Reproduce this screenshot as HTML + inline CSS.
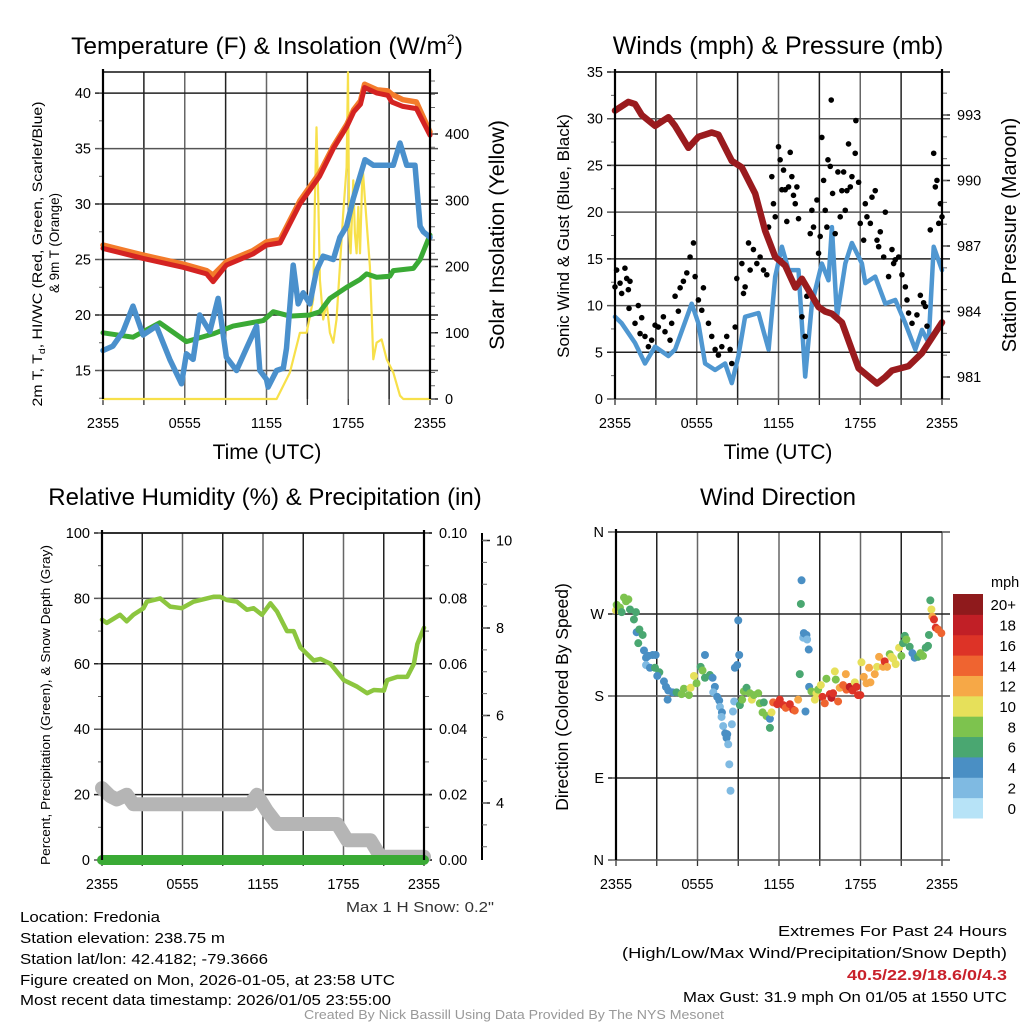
<!DOCTYPE html>
<html><head><meta charset="utf-8">
<style>
html,body{margin:0;padding:0;background:#fff;}
svg{display:block;font-family:"Liberation Sans",sans-serif;}
</style></head>
<body>
<svg id="fig" width="1024" height="1024" viewBox="0 0 1024 1024" xmlns="http://www.w3.org/2000/svg">
<rect x="0" y="0" width="1024" height="1024" fill="#fff"/>
<text x="267" y="54" font-size="24.5" text-anchor="middle">Temperature (F) &amp; Insolation (W/m<tspan font-size="14" dy="-10">2</tspan><tspan dy="10">)</tspan></text>
<text x="778" y="54" font-size="25" text-anchor="middle">Winds (mph) &amp; Pressure (mb)</text>
<text x="265" y="505" font-size="24" text-anchor="middle">Relative Humidity (%) &amp; Precipitation (in)</text>
<text x="778" y="505" font-size="24" text-anchor="middle">Wind Direction</text>

<text transform="translate(42,254) rotate(-90)" font-size="13.5" text-anchor="middle" textLength="305" lengthAdjust="spacingAndGlyphs">2m T, T<tspan font-size="9" dy="3">d</tspan><tspan dy="-3">, HI/WC (Red, Green, Scarlet/Blue)</tspan></text>
<text transform="translate(59,243) rotate(-90)" font-size="13.5" text-anchor="middle" textLength="100" lengthAdjust="spacingAndGlyphs">&amp; 9m T (Orange)</text>
<text transform="translate(504,235) rotate(-90)" font-size="21.5" text-anchor="middle">Solar Insolation (Yellow)</text>
<text transform="translate(569,236) rotate(-90)" font-size="17" text-anchor="middle">Sonic Wind &amp; Gust (Blue, Black)</text>
<text transform="translate(1016,235) rotate(-90)" font-size="20" text-anchor="middle">Station Pressure (Maroon)</text>
<text transform="translate(50,705) rotate(-90)" font-size="13" text-anchor="middle" textLength="320" lengthAdjust="spacingAndGlyphs">Percent, Precipitation (Green), &amp; Snow Depth (Gray)</text>
<text transform="translate(568,697) rotate(-90)" font-size="17.5" text-anchor="middle">Direction (Colored By Speed)</text>
<text x="267" y="459" font-size="21" text-anchor="middle">Time (UTC)</text>
<text x="778" y="459" font-size="21" text-anchor="middle">Time (UTC)</text>

<text x="494" y="912" font-size="14.5" text-anchor="end" textLength="148" lengthAdjust="spacingAndGlyphs" fill="#333">Max 1 H Snow: 0.2"</text>
<g font-size="15">
<text x="20" y="922" textLength="140" lengthAdjust="spacingAndGlyphs">Location: Fredonia</text>
<text x="20" y="943" textLength="205" lengthAdjust="spacingAndGlyphs">Station elevation: 238.75 m</text>
<text x="20" y="964" textLength="248" lengthAdjust="spacingAndGlyphs">Station lat/lon: 42.4182; -79.3666</text>
<text x="20" y="985" textLength="375" lengthAdjust="spacingAndGlyphs">Figure created on Mon, 2026-01-05, at 23:58 UTC</text>
<text x="20" y="1005" textLength="371" lengthAdjust="spacingAndGlyphs">Most recent data timestamp: 2026/01/05 23:55:00</text>
</g>
<g font-size="15" text-anchor="end">
<text x="1007" y="936" textLength="229" lengthAdjust="spacingAndGlyphs">Extremes For Past 24 Hours</text>
<text x="1007" y="958" textLength="385" lengthAdjust="spacingAndGlyphs">(High/Low/Max Wind/Precipitation/Snow Depth)</text>
<text x="1007" y="980" font-weight="bold" fill="#c8202a" textLength="160" lengthAdjust="spacingAndGlyphs">40.5/22.9/18.6/0/4.3</text>
<text x="1007" y="1002" textLength="324" lengthAdjust="spacingAndGlyphs">Max Gust: 31.9 mph On 01/05 at 1550 UTC</text>
</g>
<text x="514" y="1019" font-size="12.5" text-anchor="middle" fill="#999" textLength="420" lengthAdjust="spacingAndGlyphs">Created By Nick Bassill Using Data Provided By The NYS Mesonet</text>
<g id="layer"></g>
</svg>
<script>
// ---------- DATA ----------
var xTickLabels = ["2355","0555","1155","1755","2355"];
var tempTicks = [15,20,25,30,35,40];
var insolTicks = [0,100,200,300,400];
var windTicks = [0,5,10,15,20,25,30,35];
var presTicks = [981,984,987,990,993];
var rhTicks = [0,20,40,60,80,100];
var precipTicks = ["0.00","0.02","0.04","0.06","0.08","0.10"];
var snowTicks = [4,6,8,10];
var dirTicks = ["N","E","S","W","N"];
var speedBinLabels = ["0","2","4","6","8","10","12","14","16","18","20+"];
var speedBinColors = ["#b7e3f7","#7fbae2","#4a8fc4","#4aa771","#7dc34e","#e6e05a","#f6a847","#ef6430","#dd3327","#c11f26","#8f1a1c"];

var tempHours = [0,2.94,5.88,7.6,8.08,9.06,11.0,12.0,13.0,13.7,14.45,15.9,16.9,17.9,18.4,18.9,19.2,20.1,20.9,21.2,22.0,23.0,24];
var tempVals  = [26,25.1,24.3,23.7,23.0,24.5,25.5,26.3,26.5,28.2,30,32.5,35,37,38.3,39,40.5,40,39.8,39.2,38.8,38.6,36.2];
var temp9mVals= [26.3,25.4,24.6,24.0,23.6,24.8,25.8,26.6,26.8,28.5,30.3,32.8,35.2,37.2,38.5,39.3,40.8,40.3,40.2,39.9,39.4,39.2,36.5];
var dewHours = [0,2.2,4.16,6.12,8.08,9.55,11.76,12.49,13.72,15.18,15.92,16.65,17.88,18.86,19.35,20.08,21.06,21.31,22.78,23.27,24];
var dewVals  = [18.4,18.0,19.3,17.6,18.3,19.0,19.5,20.3,19.9,20.0,20.3,21.5,22.5,23.2,23.7,23.4,23.5,24.0,24.2,25,27.2];
var wcHours = [0,0.73,1.47,2.2,2.94,3.92,4.9,5.76,6.12,6.61,7.1,7.84,8.45,9.06,9.8,10.53,11.27,11.51,12.0,12.12,12.74,13.23,13.47,13.96,14.33,14.69,15.18,15.67,16.16,16.9,17.39,17.88,18.37,18.74,19.23,19.84,20.57,21.31,21.8,22.29,22.9,23.27,23.51,24];
var wcVals  = [16.8,17.2,18.5,20.8,18.2,19,16,13.8,16.5,16,20,18.5,21.5,16.2,15,17,19,15,14.2,13.5,15,15.2,17,24.5,21,22,21,24,25.3,25,27,28,30.5,32,34,33.5,33.5,33.5,35.5,33.5,33.5,28,27.5,27];
var solHours = [0,12.74,13.72,14.45,14.94,15.43,15.55,15.67,15.8,15.92,16.16,16.41,16.65,16.9,17.14,17.39,17.63,17.88,17.98,18.07,18.17,18.37,18.49,18.61,18.74,18.86,19.05,19.23,19.59,19.84,20.08,20.45,20.82,21.31,21.8,22.04,24];
var solVals  = [0,0,40,100,100,150,300,410,300,180,120,145,100,85,120,200,280,350,493,250,220,330,250,220,290,220,350,300,200,60,85,90,60,40,5,0,0];

var presHours = [0,0.98,1.47,1.96,2.94,3.92,4.41,5.39,6.12,7.1,7.59,8.57,9.31,10.29,11.02,11.76,12.49,13.23,13.72,14.94,15.43,15.92,16.65,17.88,19.23,19.84,20.33,21.55,22.53,24];
var presVals  = [993.2,993.6,993.5,993.0,992.5,992.9,992.5,991.5,992.0,992.2,992.1,990.9,990.6,989.4,987.7,986.5,986.1,985.1,985.5,984.2,984.0,983.9,983.5,981.4,980.7,981.0,981.3,981.5,982.1,983.5];
var windHours = [0,0.49,1.47,2.2,2.94,3.92,4.41,5.63,6.12,6.61,7.35,8.08,8.57,9.06,9.55,10.53,11.27,11.76,12.25,12.74,13.47,13.96,14.45,15.18,15.67,15.92,16.29,16.9,17.39,18.12,18.37,19.1,19.84,20.57,21.31,22.04,22.53,23.02,23.39,24];
var windVals  = [8.8,8.1,6,3.8,5.6,4.6,5.3,10.2,8.1,3.8,3.1,3.8,1.7,4.6,8.8,9.2,5.3,13.1,16.3,13.8,13.8,2.4,10.2,14.5,12.7,18.4,8.8,14.5,16.7,14.5,12.4,13.1,10.2,10.6,8.1,5.3,7.4,6,16.3,13.8];
var gustHours = [0,0.12,0.37,0.49,0.86,0.98,0.73,1.1,1.03,1.47,1.71,1.96,1.84,2.2,2.45,2.69,2.94,3.18,3.55,3.67,4.04,4.16,4.41,4.65,4.78,5.02,5.27,5.51,5.76,5.88,6.12,6.37,6.49,6.86,7.1,7.35,7.59,7.84,8.2,8.45,8.57,8.82,8.94,9.31,9.43,9.55,9.8,9.92,10.16,10.41,10.65,10.9,11.14,11.27,11.51,11.63,11.76,12.0,12.12,12.25,12.37,12.49,12.61,12.74,12.86,12.98,13.1,13.23,13.35,13.47,13.72,13.96,14.08,14.33,14.45,14.57,14.82,14.94,15.06,15.18,15.31,15.43,15.55,15.63,15.8,15.87,15.97,16.16,16.36,16.53,16.65,16.78,16.9,17.02,17.14,17.27,17.39,17.63,17.68,17.88,18.0,18.25,18.37,18.49,18.74,18.86,19.1,19.23,19.35,19.47,19.72,19.84,20.08,20.33,20.45,20.57,20.82,21.06,21.31,21.43,21.55,21.8,22.16,22.41,22.65,22.78,22.9,23.14,23.39,23.51,23.63,23.76,23.88,24];
var gustVals  = [12,13.8,12.4,11.3,12.9,11.7,14,12.6,9.7,8.1,10,8.7,7,6.7,5.6,6.3,7.9,7.7,8.8,7.2,6.3,8.1,11,9.4,11.9,12.6,13.5,15.2,16.7,13.1,10.6,9.5,11.9,8.1,6.7,5.3,4.7,5.6,6.7,5.3,3.8,7.7,12.9,14.5,11.3,12,16.7,13.8,16,14.5,15.2,13.8,13.3,18.4,23.8,20.9,19.5,27,25.6,22.4,24.5,22.4,19,22.7,26.4,23.8,21.8,20.9,22.7,19.3,8.8,6.7,11,17.7,20.2,18.4,21.3,15.6,17.4,28,23.4,20.2,18.4,25.6,24.9,32,22,17.7,24.3,19.5,22.3,24.3,20.2,22.3,27.3,22.7,23.8,26.3,29.8,23.2,18.8,17,20.9,19.5,18.8,21.6,22.3,17,16.3,17.9,15.2,20,13.1,16,14.5,14.9,15.2,13.3,12,10.6,9.2,8.1,9,11.1,10.3,9.9,7.8,18.1,26.3,22.7,23.4,18.8,20.9,19.5];

var rhHours = [0,0.35,1.34,1.84,2.34,3.09,3.34,4.33,5.08,5.95,6.82,8.31,8.81,9.31,10.06,10.8,11.3,11.92,12.55,13.04,13.79,14.29,14.79,15.78,16.28,17.03,18.02,19.02,19.77,20.26,21.01,21.26,22.01,22.75,23.25,23.5,24];
var rhVals  = [73.5,72.5,75,73,75,77,79,80,77.5,77,79,80.5,80.5,79.5,79,76.5,77,75,78.5,76,70,70,65,61,61.5,60,55,53,51,52,51.8,55,56,56,60,66,71];
var precipHours = [0,24];
var precipVals  = [0,0];
var snowHours = [0,0.6,1.1,1.84,2.34,11.05,11.55,12.3,13.04,17.53,18.27,20.01,20.76,24];
var snowVals  = [4.34,4.16,4.08,4.19,3.97,3.97,4.19,3.82,3.52,3.52,3.15,3.15,2.77,2.77];

var dirHours = [0,0.05,0.29,0.59,0.74,0.91,0.42,1.03,1.47,1.32,1.52,1.72,1.96,1.64,2.06,2.21,2.38,2.70,2.92,2.21,2.50,2.87,3.19,3.04,3.53,3.68,3.85,3.80,4.17,4.46,4.83,5.00,5.37,5.49,5.74,5.93,6.23,6.37,6.55,6.55,6.91,7.11,7.28,7.16,7.45,7.60,7.65,7.80,7.77,7.89,8.04,8.19,8.14,8.26,8.34,8.43,8.53,8.61,8.70,8.75,8.92,9.07,9.00,9.12,9.29,9.41,9.61,9.86,10.0,10.15,10.47,10.59,10.79,10.88,11.08,11.33,11.33,11.45,11.57,11.87,12.06,12.31,12.50,12.80,13.04,13.16,13.41,13.53,13.66,13.61,13.78,13.83,14.02,14.07,14.19,13.95,14.22,14.39,14.64,14.76,14.88,15.08,15.20,15.37,15.49,15.74,15.86,15.98,16.11,16.18,16.35,16.47,16.72,16.92,16.96,17.21,17.41,17.58,17.70,17.82,17.99,18.07,18.24,18.44,18.63,18.73,19.05,19.22,19.37,19.66,19.78,19.96,20.15,20.27,20.40,20.59,20.84,21.01,21.13,21.26,21.38,21.62,21.82,21.99,22.24,22.41,22.60,22.80,22.97,23.04,23.14,23.22,23.29,23.41,23.54,23.71,23.95];
var dirVals  = [274,280,277,288,284,286,272,275,272,264,250,253,247,238,230,222,224,225,225,214,211,211,206,202,196,190,186,176,184,184,182,188,181,189,202,194,212,208,200,225,203,200,190,184,179,175,168,162,157,147,139,138,134,127,105,76,149,163,174,211,214,225,263,170,176,185,189,183,176,181,183,172,162,173,158,155,145,162,173,171,176,170,167,171,165,164,176,204,307,281,244,249,247,242,231,163,190,185,176,183,187,192,179,172,199,182,178,183,207,198,174,189,192,204,187,190,186,195,190,181,181,217,201,194,211,195,204,212,223,212,218,212,226,223,221,215,233,224,238,246,242,234,227,222,223,227,224,233,235,247,285,275,267,264,255,253,249];
var dirSpeeds = [10,8,8,8,8,8,6,6,6,6,4,6,6,6,4,4,4,4,4,2,4,6,6,4,4,4,4,4,4,6,8,8,8,10,10,8,6,8,6,4,6,4,4,2,4,4,2,4,2,2,4,4,4,2,2,2,2,2,2,4,4,4,4,6,8,8,6,8,10,8,8,8,8,6,8,4,6,10,14,16,16,16,14,16,16,14,12,6,4,6,2,4,4,2,4,4,4,8,10,10,8,10,16,14,8,16,18,16,10,8,14,12,14,12,14,18,16,10,16,16,16,10,12,12,12,12,12,10,12,12,16,12,8,10,10,10,10,8,6,6,8,6,4,4,6,8,8,6,6,6,6,10,12,16,16,14,14];

// ---------- HELPERS ----------
var NS = "http://www.w3.org/2000/svg";
var layer = document.getElementById('layer');
function mk(tag, attrs, parent){
  var e = document.createElementNS(NS, tag);
  for (var k in attrs) e.setAttribute(k, attrs[k]);
  (parent || layer).appendChild(e);
  return e;
}
function lin(d0,d1,r0,r1){ return function(v){ return r0 + (v-d0)/(d1-d0)*(r1-r0); }; }

function panel(name, X0, X1, Yt, Yb){
  var g = mk('g', {});
  
  
  var x = lin(0,24,X0,X1);
  return {g:g, x:x, X0:X0, X1:X1, Yt:Yt, Yb:Yb};
}
function grid(p, yvals, yfn){
  var gg = mk('g', {}, p.g);
  
  
  for (var i=0;i<=8;i++){
    var xx = p.x(i*3);
    var l = mk('line', {x1:xx,x2:xx,y1:p.Yt,y2:p.Yb,stroke:(i%2?'#222':'#666'),'stroke-width':1.5}, gg);
    
    
    var t = mk('line', {x1:xx,x2:xx,y1:p.Yb,y2:p.Yb+6,stroke:'#333','stroke-width':1.3}, gg);
    
    
  }
  yvals.forEach(function(v,i){
    var yy = yfn(v);
    var l = mk('line', {x1:p.X0-8,x2:p.X1+8,y1:yy,y2:yy,stroke:(i%2?'#222':'#555'),'stroke-width':1.5}, gg);
    
    
  });
  var top = mk('line', {x1:p.X0,x2:p.X1,y1:p.Yt,y2:p.Yt,stroke:'#111','stroke-width':1.5}, gg);
  
  
  xTickLabels.forEach(function(s,i){
    var t = mk('text', {x:p.x(i*6), y:p.Yb+29, 'font-size':14.5, 'text-anchor':'middle'}, p.g);
    t.textContent = s;
    
    
  });
}
function frameSide(p, xx){
  var l = mk('line', {x1:xx,x2:xx,y1:p.Yt-3,y2:p.Yb,stroke:'#000','stroke-width':2.2}, p.g);
  
  
}
function leftTicks(p, vals, labels, yfn, minorStep, lo, hi, xx){
  xx = xx===undefined ? p.X0 : xx;
  vals.forEach(function(v,i){
    var yy=yfn(v);
    var t = mk('text', {x:xx-12, y:yy+5, 'font-size':14.5, 'text-anchor':'end'}, p.g);
    t.textContent = labels[i];
    
    
  });
  for (var m=lo; m<=hi+1e-9; m+=minorStep){
    var yy=yfn(m);
    var t = mk('line', {x1:xx-4,x2:xx,y1:yy,y2:yy,stroke:'#666','stroke-width':1}, p.g);
    
    
  }
}
function rightTicks(p, vals, labels, yfn, minorStep, lo, hi, xx, extra){
  xx = xx===undefined ? p.X1 : xx;
  vals.forEach(function(v,i){
    var yy=yfn(v);
    var tk = mk('line', {x1:xx,x2:xx+8,y1:yy,y2:yy,stroke:'#222','stroke-width':1.5}, p.g);
    
    
    var t = mk('text', {x:xx+(extra||15), y:yy+5, 'font-size':14.5, 'text-anchor':'start'}, p.g);
    t.textContent = labels[i];
    
    
  });
  for (var m=lo; m<=hi+1e-9; m+=minorStep){
    var yy=yfn(m);
    var t = mk('line', {x1:xx,x2:xx+5,y1:yy,y2:yy,stroke:'#666','stroke-width':1}, p.g);
    
    
  }
}
function line(p, hrs, vals, yfn, color, w, name, cap){
  var d = hrs.map(function(h,i){ return (i?'L':'M') + p.x(h).toFixed(1) + ',' + yfn(vals[i]).toFixed(1); }).join(' ');
  var e = mk('path', {d:d, fill:'none', stroke:color, 'stroke-width':w, 'stroke-linejoin':'round', 'stroke-linecap':cap||'round'}, p.g);
  
  
  return e;
}
function binColor(s){ var b = Math.floor(s/2); if (b>10) b=10; if (b<0) b=0; return speedBinColors[b]; }

// ---------- PANEL 1: Temperature ----------
(function(){
  var p = panel('temperature', 103, 430, 72, 399);
  var yT = lin(12.43, 41.9, 399, 72);
  var yI = lin(0, 400, 399, 134);
  grid(p, tempTicks, yT);
  leftTicks(p, tempTicks, tempTicks, yT, 2.5, 12.5, 40);
  rightTicks(p, insolTicks, insolTicks, yI, 20, 0, 480);
  line(p, solHours, solVals, yI, '#f7e04a', 2.2, 'insolation-line');
  line(p, dewHours, dewVals, yT, '#3aaa35', 5, 'dewpoint-line');
  line(p, wcHours, wcVals, yT, '#4a90cc', 5.5, 'windchill-line');
  line(p, tempHours, temp9mVals, yT, '#f37b2b', 5.5, 'temp-9m-line');
  line(p, tempHours, tempVals, yT, '#d42322', 5, 'temp-2m-line');
  frameSide(p, p.X0); frameSide(p, p.X1);
})();

// ---------- PANEL 2: Winds & Pressure ----------
(function(){
  var p = panel('winds', 615, 942, 72, 399);
  var yW = lin(0, 35, 399, 72);
  var yP = lin(981, 993, 377, 115);
  grid(p, windTicks, yW);
  leftTicks(p, windTicks, windTicks, yW, 2.5, 0, 35);
  rightTicks(p, presTicks, presTicks, yP, 1, 980, 994);
  line(p, windHours, windVals, yW, '#4f97d1', 4.5, 'sustained-wind-line');
  var gg = mk('g', {}, p.g);
  
  
  gustHours.forEach(function(h,i){
    var c = mk('circle', {cx:p.x(h), cy:yW(gustVals[i]), r:2.8, fill:'#000'}, gg);
    
    
  });
  line(p, presHours, presVals, yP, '#9a1b1e', 6.5, 'pressure-line');
  frameSide(p, p.X0); frameSide(p, p.X1);
})();

// ---------- PANEL 3: RH & Precip ----------
(function(){
  var p = panel('humidity', 102, 424, 533, 860);
  var yR = lin(0, 100, 860, 533);
  var yPr = lin(0, 0.10, 860, 533);
  var yS = lin(4, 10, 803, 540.5);
  grid(p, rhTicks, yR);
  leftTicks(p, rhTicks, rhTicks, yR, 10, 0, 100);
  rightTicks(p, [0,0.02,0.04,0.06,0.08,0.10], precipTicks, yPr, 0.01, 0, 0.1);
  var ax = mk('line', {x1:482,x2:482,y1:533,y2:860,stroke:'#000','stroke-width':2}, p.g);
  
  
  rightTicks(p, snowTicks, snowTicks, yS, 0.5, 3, 10, 482, 14);
  line(p, snowHours, snowVals, yS, '#b5b5b5', 14, 'snow-depth-line');
  line(p, rhHours, rhVals, yR, '#8cc63f', 4.5, 'rh-line');
  line(p, precipHours, precipVals, yPr, '#3aaa35', 10, 'precip-line');
  frameSide(p, p.X0); frameSide(p, p.X1);
})();

// ---------- PANEL 4: Wind Direction ----------
(function(){
  var p = panel('direction', 616, 942, 532, 860);
  var yD = lin(0, 360, 860, 532);
  grid(p, [0,90,180,270,360], yD);
  leftTicks(p, [0,90,180,270,360], dirTicks, yD, 90, 0, 360);
  var gg = mk('g', {}, p.g);
  
  
  dirHours.forEach(function(h,i){
    var c = mk('circle', {cx:p.x(h), cy:yD(dirVals[i]), r:4, fill:binColor(dirSpeeds[i])}, gg);
    
    
  });
  frameSide(p, p.X0);
  // colorbar
  var cb = mk('g', {});
  
  
  var top = 594, bot = 818, n = speedBinLabels.length, h = (bot-top)/n;
  for (var i=0;i<n;i++){
    var yy = bot - (i+1)*h;
    var r = mk('rect', {x:953, y:yy, width:30, height:h+0.5, fill:speedBinColors[i]}, cb);
    
    
    var t = mk('text', {x:1016, y:yy+h/2+6, 'font-size':15, 'text-anchor':'end'}, cb);
    t.textContent = speedBinLabels[i];
    
    
  }
  var u = mk('text', {x:991, y:587, 'font-size':14.5}, cb);
  u.textContent = 'mph';
  
  
})();
</script>
</body></html>
